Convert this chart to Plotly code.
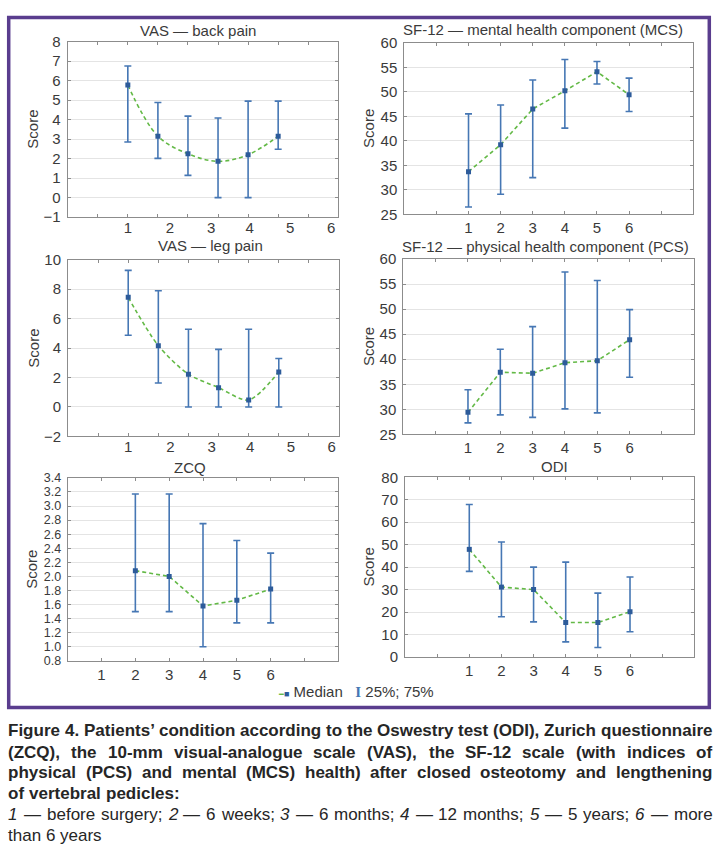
import plotly.graph_objects as go

W, H = 719, 860

# ---------------- data ----------------
time_points = [1, 2, 3, 4, 5, 6]
zcq_time_points = [2, 3, 4, 5, 6]
tick_labels = ["1", "2", "3", "4", "5", "6"]

vas_back_median = [5.77, 3.15, 2.25, 1.86, 2.20, 3.15]
vas_back_q25 = [2.85, 2.01, 1.14, 0.00, 0.00, 2.48]
vas_back_q75 = [6.75, 4.88, 4.18, 4.08, 4.95, 4.95]

vas_leg_median = [7.44, 4.16, 2.22, 1.31, 0.47, 2.38]
vas_leg_q25 = [4.87, 1.62, 0.00, 0.00, 0.00, 0.00]
vas_leg_q75 = [9.27, 7.89, 5.27, 3.91, 5.27, 3.29]

mcs_median = [33.7, 39.2, 46.5, 50.2, 54.1, 49.4]
mcs_q25 = [26.5, 29.1, 32.5, 42.6, 51.6, 46.0]
mcs_q75 = [45.5, 47.3, 52.4, 56.6, 56.2, 52.8]

pcs_median = [29.4, 37.4, 37.2, 39.3, 39.7, 43.9]
pcs_q25 = [27.3, 28.9, 28.4, 30.1, 29.3, 36.4]
pcs_q75 = [33.9, 42.0, 46.5, 57.4, 55.7, 49.9]

zcq_median = [2.08, 2.00, 1.58, 1.66, 1.82]
zcq_q25 = [1.50, 1.50, 1.00, 1.34, 1.34]
zcq_q75 = [3.17, 3.17, 2.75, 2.51, 2.33]

odi_median = [47.9, 31.1, 30.0, 15.3, 15.3, 20.1]
odi_q25 = [38.1, 17.9, 15.6, 6.7, 4.2, 11.2]
odi_q75 = [67.9, 51.2, 40.0, 42.2, 28.4, 35.6]

caption_lines = [
    "Figure 4. Patients’ condition according to the Oswestry test (ODI), Zurich questionnaire",
    "(ZCQ), the 10-mm visual-analogue scale (VAS), the SF-12 scale (with indices of",
    "physical (PCS) and mental (MCS) health) after closed osteotomy and lengthening",
    "of vertebral pedicles:",
    "1 — before surgery; 2 — 6 weeks; 3 — 6 months; 4 — 12 months; 5 — 5 years; 6 — more",
    "than 6 years",
]

# ---------------- styles / layout ----------------
FONT = "Liberation Sans, Arial, sans-serif"
TXT = "#3a3a3a"
CAP_TXT = "#262626"
AX = "#8c8c8c"
GRID = "#e4e4e4"
GREEN = "#63b946"
MARK = "#2d5b9a"
BAR = "#4677b4"
PURPLE = "#5a3d8e"

VAS_LABEL_POS = [1.0, 2.4, 3.77, 5.05, 6.4, 7.76]

panels = [
    dict(title="VAS — back pain", t=time_points, med=vas_back_median, lo=vas_back_q25, hi=vas_back_q75,
         xr=[-1, 8], ticks=list(range(0, 8)), yr=[-1, 8], dtick=1, fmt="", tsize=15,
         box=(67.7, 338.3, 33.3, 212.3), title_xy=(198, 21.7), score_x=32.3,
         shape="spline", smooth=1.0, vas=True),
    dict(title="SF-12 — mental health component (MCS)", t=time_points, med=mcs_median, lo=mcs_q25, hi=mcs_q75,
         xr=[-1, 8], ticks=list(range(0, 8)), yr=[25, 60], dtick=5, fmt="", tsize=15,
         box=(404.3, 693.3, 34.5, 209.5), title_xy=(543.3, 21.2), score_x=368.3,
         shape="linear", smooth=0, vas=False),
    dict(title="VAS — leg pain", t=time_points, med=vas_leg_median, lo=vas_leg_q25, hi=vas_leg_q75,
         xr=[-1, 8], ticks=list(range(0, 8)), yr=[-2, 10], dtick=2, fmt="", tsize=15,
         box=(68.0, 339.0, 255.7, 436.0), title_xy=(210, 241.7), score_x=32.7,
         shape="spline", smooth=0.8, vas=True),
    dict(title="SF-12 — physical health component (PCS)", t=time_points, med=pcs_median, lo=pcs_q25, hi=pcs_q75,
         xr=[-1, 8], ticks=list(range(0, 8)), yr=[25, 60], dtick=5, fmt="", tsize=15,
         box=(403.3, 694.3, 255.0, 434.0), title_xy=(545.8, 242.3), score_x=368.3,
         shape="linear", smooth=0, vas=False),
    dict(title="ZCQ", t=zcq_time_points, med=zcq_median, lo=zcq_q25, hi=zcq_q75,
         xr=[0, 8], ticks=list(range(1, 8)), yr=[0.8, 3.4], dtick=0.2, fmt=".1f", tsize=12.5,
         box=(67.7, 338.3, 478.3, 665.0), title_xy=(190.4, 467.3), score_x=31.5,
         shape="linear", smooth=0, vas=False),
    dict(title="ODI", t=time_points, med=odi_median, lo=odi_q25, hi=odi_q75,
         xr=[-1, 8], ticks=list(range(0, 8)), yr=[0, 80], dtick=10, fmt="", tsize=15,
         box=(405.0, 694.3, 477.7, 661.0), title_xy=(554.7, 467.0), score_x=368.3,
         shape="linear", smooth=0, vas=False),
]

fig = go.Figure()
layout = dict(
    width=W, height=H, margin=dict(l=0, r=0, t=0, b=0),
    paper_bgcolor="white", plot_bgcolor="white", showlegend=False,
    font=dict(family=FONT, color=TXT, size=15),
)
annotations = []
extra = 7


def px_x(x):
    return x / W


def px_y(y):
    return 1 - y / H


for i, p in enumerate(panels, start=1):
    xa = "x" if i == 1 else f"x{i}"
    ya = "y" if i == 1 else f"y{i}"
    xk = "xaxis" if i == 1 else f"xaxis{i}"
    yk = "yaxis" if i == 1 else f"yaxis{i}"
    x0, x1, y0, y1 = p["box"]

    fig.add_trace(go.Scatter(
        x=p["t"], y=p["med"], mode="lines", xaxis=xa, yaxis=ya, hoverinfo="skip",
        line=dict(color=GREEN, width=1.6, dash="4px,3px", shape=p["shape"],
                  smoothing=p["smooth"] if p["shape"] == "spline" else None),
    ))
    fig.add_trace(go.Scatter(
        x=p["t"], y=p["med"], mode="markers", xaxis=xa, yaxis=ya,
        marker=dict(symbol="square", size=5, color=MARK),
        error_y=dict(type="data", symmetric=False,
                     array=[h - m for h, m in zip(p["hi"], p["med"])],
                     arrayminus=[m - l for m, l in zip(p["med"], p["lo"])],
                     color=BAR, thickness=1.6, width=3.5),
    ))

    if p["vas"]:
        ttext = ["" for _ in p["ticks"]]
    else:
        ttext = [str(v) if 1 <= v <= 6 else "" for v in p["ticks"]]

    layout[xk] = dict(
        domain=[px_x(x0), px_x(x1)], anchor=ya, range=p["xr"],
        tickmode="array", tickvals=p["ticks"], ticktext=ttext,
        ticks="inside", ticklen=3, tickcolor=AX, showline=True, linecolor=AX, linewidth=1,
        mirror="ticks", showgrid=False, zeroline=False, fixedrange=True,
        tickfont=dict(size=15, color=TXT, family=FONT),
    )
    layout[yk] = dict(
        domain=[px_y(y1), px_y(y0)], anchor=xa, range=p["yr"], dtick=p["dtick"], tick0=p["yr"][0],
        tickformat=p["fmt"], ticks="inside", ticklen=3, tickcolor=AX, showline=True, linecolor=AX,
        linewidth=1, mirror="ticks", showgrid=True, gridcolor=GRID, gridwidth=1, zeroline=False,
        fixedrange=True, tickfont=dict(size=p["tsize"], color=TXT, family=FONT), ticklabelstandoff=3,
    )

    if p["vas"]:
        k = extra
        extra += 1
        layout[f"xaxis{k}"] = dict(
            domain=[px_x(x0), px_x(x1)], overlaying=xa, anchor=ya, range=p["xr"],
            tickmode="array", tickvals=VAS_LABEL_POS, ticktext=tick_labels,
            ticks="", showline=False, showgrid=False, zeroline=False, fixedrange=True,
            tickfont=dict(size=15, color=TXT, family=FONT),
        )
        fig.add_trace(go.Scatter(x=[None], y=[None], xaxis=f"x{k}", yaxis=ya,
                                 mode="markers", hoverinfo="skip", showlegend=False))

    tx, ty = p["title_xy"]
    annotations.append(dict(text=p["title"], x=px_x(tx), y=px_y(ty), xref="paper", yref="paper",
                            xanchor="center", yanchor="middle", showarrow=False,
                            font=dict(size=15, color=TXT, family=FONT)))
    annotations.append(dict(text="Score", x=px_x(p["score_x"]), y=px_y((y0 + y1) / 2),
                            xref="paper", yref="paper", xanchor="center", yanchor="middle",
                            textangle=-90, showarrow=False,
                            font=dict(size=15, color=TXT, family=FONT)))

# legend (as text)
annotations.append(dict(
    text=('<span style="color:%s;font-size:8px">━</span><span style="color:%s;font-size:9px">■</span> Median   '
          '<span style="color:%s;font-family:Liberation Serif;font-weight:bold">I</span> 25%%; 75%%')
    % (GREEN, MARK, BAR),
    x=px_x(356), y=px_y(696), xref="paper", yref="paper", xanchor="center", yanchor="middle",
    showarrow=False, font=dict(size=15, color=TXT, family=FONT)))

# ---------------- caption with justified lines ----------------
def _tbl(groups):
    d = {}
    for chars, w in groups:
        for c in chars:
            d[c] = w
    return d


REG = _tbl([("ijl’", 222), ("ft ,.:;I", 278), ("r()-", 333), ("cksvxyzJ", 500),
            ("abdeghnopqu0123456789L", 556), ("FTZ", 611), ("ABEKPSVXY", 667),
            ("wCDHNRU", 722), ("GOQ", 778), ("mM", 833), ("W", 944), ("—%", 1000)])
BOLD = _tbl([("ijl’ ,.I", 278), ("ft()-:;", 333), ("r", 389), ("z", 500),
             ("acekvsxy0123456789J", 556), ("bdghnopquFLTZ", 611), ("EPSVXY", 667),
             ("ABCDHKNRU", 722), ("wGOQ", 778), ("M", 833), ("m", 889), ("W", 944), ("—", 1000)])

CAP_SIZE = 17
CAP_LEFT, CAP_RIGHT = 7.3, 711.3
caption_bold = [True, True, True, True, False, False]
caption_justify = [True, True, True, False, True, False]
caption_y = [736.0, 758.0, 779.3, 800.5, 822.0, 843.0]


def wtext(s, bold):
    t = BOLD if bold else REG
    return sum(t.get(c, 556) for c in s) * CAP_SIZE / 1000.0


for line, bold, just, ly in zip(caption_lines, caption_bold, caption_justify, caption_y):
    words = line.split(" ")
    widths = [wtext(w, bold) for w in words]
    space = wtext(" ", bold)
    if just and len(words) > 1:
        gap = (CAP_RIGHT - CAP_LEFT - sum(widths)) / (len(words) - 1)
    else:
        gap = space
    x = CAP_LEFT
    for j, w in enumerate(words):
        txt = w
        if not bold and j + 1 < len(words) and words[j + 1] == "—" and w.isdigit():
            txt = "<i>%s</i>" % w
        if bold:
            txt = "<b>%s</b>" % txt
        annotations.append(dict(text=txt, x=px_x(x - 1), y=px_y(ly), xref="paper", yref="paper",
                                xanchor="left", yanchor="middle", showarrow=False,
                                font=dict(size=CAP_SIZE, color=CAP_TXT, family=FONT)))
        x += widths[j] + gap

layout["annotations"] = annotations
layout["shapes"] = [dict(type="rect", xref="paper", yref="paper",
                         x0=px_x(8.7), x1=px_x(709.3), y0=px_y(712.5), y1=px_y(8.7),
                         line=dict(color=PURPLE, width=3.5), fillcolor="rgba(0,0,0,0)")]

fig.update_layout(**layout)
fig.write_html(
    "out.html",
    config={"displayModeBar": False, "staticPlot": True},
    post_script=(
        "var de=document.documentElement, b=document.body;"
        "de.style.margin='0';de.style.padding='0';de.style.overflow='hidden';de.style.height='860px';"
        "b.style.margin='0';b.style.padding='0';b.style.overflow='hidden';b.style.height='860px';"
    ),
)
